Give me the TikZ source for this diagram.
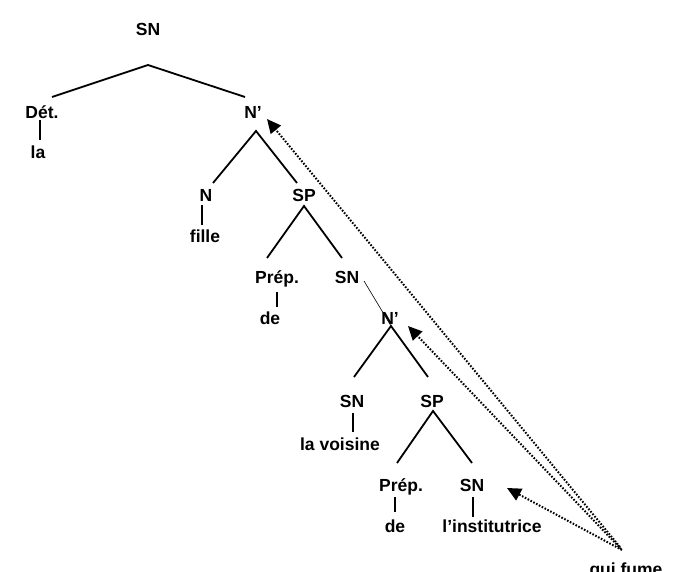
\documentclass[tikz,border=0pt]{standalone}
\usepackage{fontspec}
\setmainfont{Liberation Sans}
\usetikzlibrary{arrows.meta}
\begin{document}
\begin{tikzpicture}[x=1pt,y=-1pt,
 lbl/.style={font=\fontsize{17.5}{20}\selectfont\bfseries, inner sep=0pt, anchor=base},
 br/.style={line width=1.8pt},
 thinbr/.style={line width=0.6pt},
 mv/.style={line width=2pt, dash pattern=on 1.6pt off 1.6pt, -{Triangle[length=14pt,width=13pt]}}]
\useasboundingbox (0,0) rectangle (673,572);
% labels
\node[lbl] (sn0) at (148,36) {SN};
\node[lbl] (det) at (42,119) {Dét.};
\node[lbl] (la) at (38,159) {la};
\node[lbl] (nb1) at (253,119) {N’};
\node[lbl] (n) at (206,202) {N};
\node[lbl] (fille) at (205,243) {fille};
\node[lbl] (sp1) at (304,202) {SP};
\node[lbl] (prep1) at (277,284) {Prép.};
\node[lbl] (de1) at (270,325) {de};
\node[lbl] (sn1) at (347,284) {SN};
\node[lbl] (nb2) at (390,325) {N’};
\node[lbl] (sn2) at (352,408) {SN};
\node[lbl] (voisine) at (340,450) {la voisine};
\node[lbl] (sp2) at (432,408) {SP};
\node[lbl] (prep2) at (401,492) {Prép.};
\node[lbl] (de2) at (395,532) {de};
\node[lbl] (sn3) at (472,492) {SN};
\node[lbl] (inst) at (492,532) {l’institutrice};
\node[lbl] (qui) at (626,575) {qui fume};
% branch points
\coordinate (a0) at (148,65); \coordinate (a0l) at (52,97); \coordinate (a0r) at (245,97);
\coordinate (a1) at (256,131); \coordinate (a1l) at (213,183); \coordinate (a1r) at (297,183);
\coordinate (a2) at (304,206); \coordinate (a2l) at (267,258); \coordinate (a2r) at (342,258);
\coordinate (t1) at (364,281);
\coordinate (a3) at (391,326); \coordinate (a3l) at (354,377); \coordinate (a3r) at (428,377);
\coordinate (a4) at (433,411); \coordinate (a4l) at (397,463); \coordinate (a4r) at (472,463);
% tree edges
\draw[br] (a0l) -- (a0) -- (a0r);
\draw[br] (a1l) -- (a1) -- (a1r);
\draw[br] (a2l) -- (a2) -- (a2r);
\draw[thinbr] (t1) -- (a3);
\draw[br] (a3l) -- (a3) -- (a3r);
\draw[br] (a4l) -- (a4) -- (a4r);
% vertical links
\draw[br] (40,120) coordinate (v1a) -- (40,140) coordinate (v1b);
\draw[br] (202,205) coordinate (v2a) -- (202,225) coordinate (v2b);
\draw[br] (277,292) coordinate (v3a) -- (277,307) coordinate (v3b);
\draw[br] (353,413) coordinate (v4a) -- (353,432) coordinate (v4b);
\draw[br] (395,497) coordinate (v5a) -- (395,512) coordinate (v5b);
\draw[br] (473,497) coordinate (v6a) -- (473,517) coordinate (v6b);
% movement arrows
\coordinate (src1) at (620,547);
\coordinate (src2) at (621,549);
\coordinate (src3) at (622,550);
\coordinate (tg1) at (267,119);
\coordinate (tg2) at (408,326);
\coordinate (tg3) at (507,488);
\draw[mv] (src1) -- (tg1);
\draw[mv] (src2) -- (tg2);
\draw[mv] (src3) -- (tg3);
\end{tikzpicture}
\end{document}
